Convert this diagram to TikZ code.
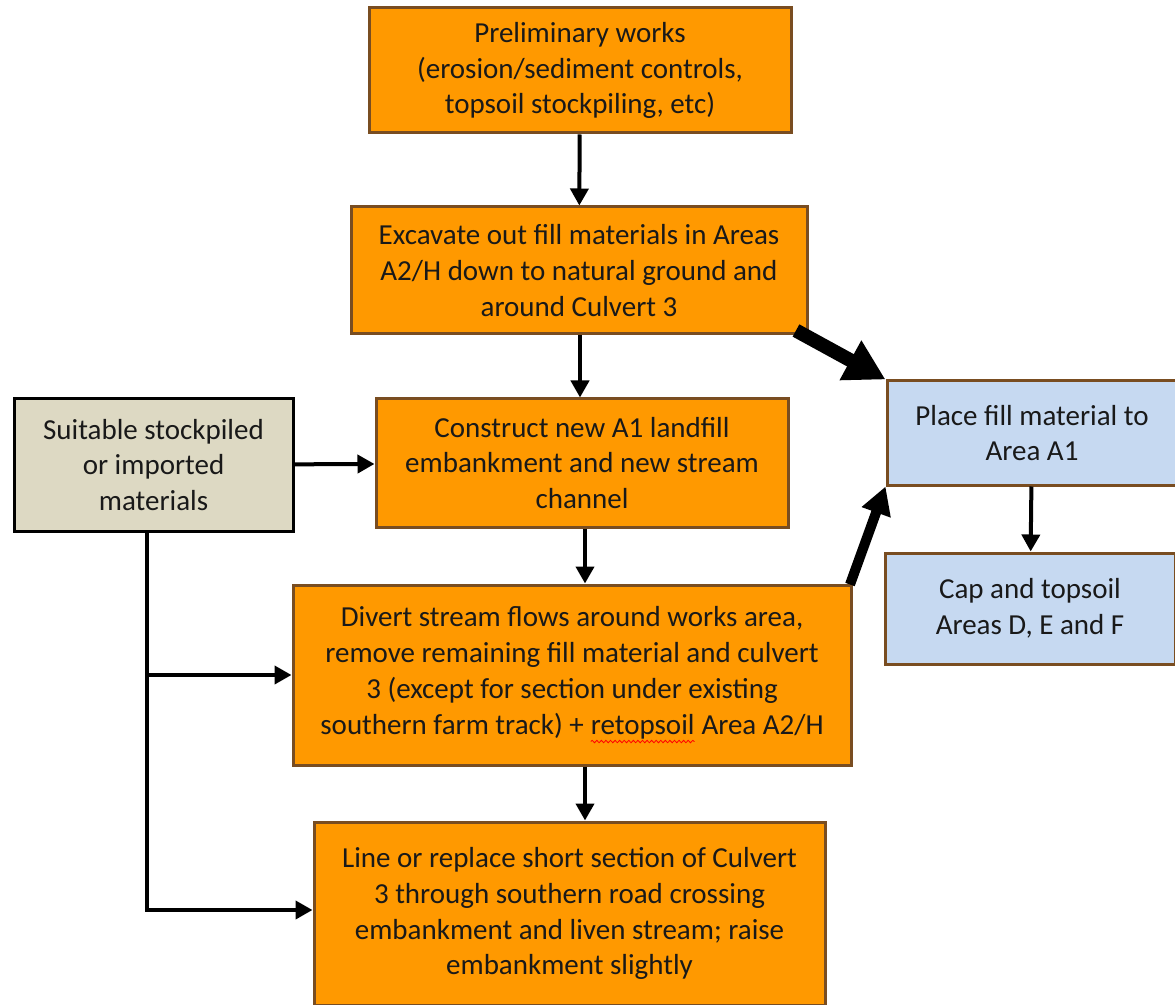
\documentclass[tikz,border=0pt]{standalone}
\usepackage{fontspec}
\setmainfont{Carlito}
\usetikzlibrary{arrows.meta, decorations.pathmorphing}

\definecolor{stepfill}{RGB}{255,153,0}
\definecolor{stepline}{RGB}{121,77,33}
\definecolor{sourcefill}{RGB}{221,217,195}
\definecolor{areafill}{RGB}{198,217,241}

\newcommand\spellwave[1]{\tikz[baseline=(w.base)]{%
    \node[draw=none, fill=none, inner sep=0pt, outer sep=0pt, minimum width=0pt, minimum height=0pt] (w) {#1};%
    \draw[red, line width=0.45pt, decorate, decoration={snake, amplitude=0.7pt, segment length=2.6pt}]
        ([yshift=-4pt]w.base west) -- ([yshift=-4pt]w.base east);}}

\begin{document}
\begin{tikzpicture}[
    box/.style={draw=stepline, line width=0.06cm, fill=stepfill, align=center,
        font=\fontsize{16.5}{20.4}\selectfont, text=black!90},
    srcbox/.style={box, draw=black, fill=sourcefill},
    areabox/.style={box, fill=areafill},
    arr/.style={line width=0.08cm, -{Triangle[length=0.34cm, width=0.36cm]}},
    bigarr/.style={line width=0.28cm, -{Triangle[length=0.8cm, width=0.85cm]}},
    midarr/.style={line width=0.2cm, -{Triangle[length=0.55cm, width=0.58cm]}}
]
    \useasboundingbox (0, 0) rectangle (23.5, -20.1);

    \node[box, minimum width=8.44cm, minimum height=2.5cm] (prelim) at (11.6, -1.41)
        {Preliminary works\\(erosion/sediment controls,\\topsoil stockpiling, etc)};
    \node[box, minimum width=9.12cm, minimum height=2.54cm] (excavate) at (11.58, -5.41)
        {Excavate out fill materials in Areas\\A2/H down to natural ground and\\around Culvert 3};
    \node[box, minimum width=8.24cm, minimum height=2.56cm] (construct) at (11.64, -9.26)
        {Construct new A1 landfill\\embankment and new stream\\channel};
    \node[srcbox, minimum width=5.58cm, minimum height=2.64cm] (source) at (3.07, -9.3)
        {Suitable stockpiled\\or imported\\materials};
    \node[box, minimum width=11.16cm, minimum height=3.6cm] (divert) at (11.44, -13.5)
        {Divert stream flows around works area,\\remove remaining fill material and culvert\\3 (except for section under existing\\southern farm track) + \spellwave{retopsoil} Area A2/H};
    \node[box, minimum width=10.22cm, minimum height=3.66cm] (liner) at (11.39, -18.27)
        {Line or replace short section of Culvert\\3 through southern road crossing\\embankment and liven stream; raise\\embankment slightly};
    \node[areabox, minimum width=5.8cm, minimum height=2.08cm] (place) at (20.64, -8.66)
        {Place fill material to\\Area A1};
    \node[areabox, minimum width=5.8cm, minimum height=2.22cm] (cap) at (20.6, -12.17)
        {Cap and topsoil\\Areas D, E and F};

    \coordinate (trunk) at ([xshift=-0.13cm]source.south);

    \draw[arr] (prelim) -- (excavate);
    \draw[arr] (excavate.south -| 11.6, 0) -- (construct.north -| 11.6, 0);
    \draw[arr] (construct.south -| 11.7, 0) -- (divert.north -| 11.7, 0);
    \draw[arr] (divert.south -| 11.7, 0) -- (liner.north -| 11.7, 0);
    \draw[arr] (source) -- (construct);
    \draw[arr] (trunk) |- (divert.west);
    \draw[arr] (trunk) |- ([yshift=0.07cm]liner.west);
    \draw[arr] (place) -- (cap);
    \draw[bigarr] ([shift={(-0.25cm,0.1cm)}]excavate.south east) -- (place.north west);
    \draw[midarr] ([shift={(-0.05cm,-0.02cm)}]divert.north east) -- (place.south west);
\end{tikzpicture}
\end{document}
